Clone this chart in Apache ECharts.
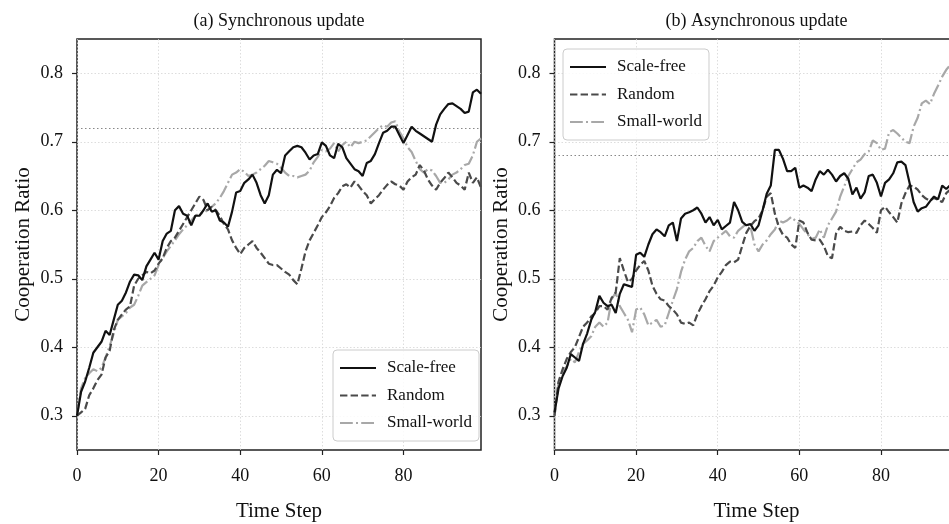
<!DOCTYPE html>
<html>
<head>
<meta charset="utf-8">
<title>Cooperation Ratio</title>
<script src="https://cdn.jsdelivr.net/npm/echarts@6/dist/echarts.min.js"></script>
<style>
    html, body { margin: 0; padding: 0; background: #fff; overflow: hidden; }
    /* 图比窗口略宽，右侧子图被裁掉一部分 */
    #chart { width: 975px; height: 524px; }
</style>
</head>
<body>
<div id="chart"></div>
<script>
"use strict"

// 数据：时间步 0..99
const steps = [];
for (let i = 0; i < 100; i++) steps.push(i);

const seriesNames = ["Scale-free", "Random", "Small-world"];
const xTicks = [0, 20, 40, 60, 80];
const yTicks = [0.3, 0.4, 0.5, 0.6, 0.7, 0.8];
const titles = ["(a) Synchronous update", "(b) Asynchronous update"];
const refLevels = [0.72, 0.68];

// (a) 同步更新
const syncScaleFree = [
    0.300, 0.335, 0.350, 0.370, 0.392, 0.400, 0.408, 0.424, 0.418, 0.440,
    0.462, 0.468, 0.480, 0.496, 0.506, 0.505, 0.498, 0.518, 0.528, 0.538,
    0.528, 0.555, 0.566, 0.570, 0.600, 0.606, 0.595, 0.592, 0.578, 0.592,
    0.592, 0.600, 0.610, 0.598, 0.600, 0.585, 0.582, 0.576, 0.598, 0.626,
    0.628, 0.640, 0.645, 0.652, 0.640, 0.622, 0.610, 0.622, 0.652, 0.659,
    0.654, 0.680, 0.686, 0.692, 0.694, 0.692, 0.684, 0.674, 0.680, 0.682,
    0.699, 0.694, 0.680, 0.676, 0.697, 0.692, 0.676, 0.668, 0.660, 0.657,
    0.650, 0.669, 0.672, 0.682, 0.698, 0.713, 0.716, 0.722, 0.722, 0.710,
    0.698, 0.710, 0.722, 0.716, 0.712, 0.708, 0.704, 0.700, 0.725, 0.740,
    0.748, 0.755, 0.756, 0.752, 0.748, 0.742, 0.744, 0.772, 0.776, 0.770
];
const syncRandom = [
    0.300, 0.305, 0.310, 0.330, 0.340, 0.352, 0.360, 0.385, 0.395, 0.425,
    0.440, 0.448, 0.455, 0.460, 0.490, 0.500, 0.505, 0.510, 0.508, 0.512,
    0.522, 0.530, 0.545, 0.555, 0.560, 0.570, 0.580, 0.590, 0.600, 0.610,
    0.620, 0.615, 0.600, 0.605, 0.600, 0.592, 0.580, 0.572, 0.556, 0.545,
    0.536, 0.545, 0.550, 0.555, 0.545, 0.538, 0.530, 0.522, 0.520, 0.520,
    0.515, 0.510, 0.506, 0.498, 0.492, 0.515, 0.540, 0.556, 0.567, 0.578,
    0.590, 0.597, 0.606, 0.618, 0.625, 0.635, 0.638, 0.633, 0.642, 0.636,
    0.628, 0.622, 0.610, 0.616, 0.622, 0.630, 0.637, 0.642, 0.638, 0.636,
    0.630, 0.642, 0.648, 0.652, 0.666, 0.658, 0.645, 0.636, 0.630, 0.640,
    0.647, 0.655, 0.648, 0.640, 0.636, 0.630, 0.655, 0.640, 0.648, 0.633
];
const syncSmallWorld = [
    0.300, 0.340, 0.355, 0.362, 0.368, 0.365, 0.370, 0.385, 0.402, 0.420,
    0.440, 0.445, 0.450, 0.458, 0.462, 0.475, 0.490, 0.495, 0.500, 0.505,
    0.520, 0.530, 0.540, 0.548, 0.556, 0.565, 0.572, 0.578, 0.585, 0.592,
    0.595, 0.596, 0.600, 0.605, 0.610, 0.618, 0.628, 0.640, 0.652, 0.655,
    0.660, 0.656, 0.650, 0.652, 0.655, 0.660, 0.665, 0.672, 0.670, 0.668,
    0.662, 0.655, 0.650, 0.650, 0.648, 0.650, 0.652, 0.658, 0.670, 0.678,
    0.688, 0.686, 0.690, 0.698, 0.686, 0.695, 0.700, 0.692, 0.700, 0.698,
    0.700, 0.702, 0.708, 0.714, 0.720, 0.724, 0.722, 0.728, 0.730, 0.715,
    0.705, 0.692, 0.685, 0.672, 0.660, 0.655, 0.660, 0.658, 0.650, 0.640,
    0.640, 0.645, 0.652, 0.655, 0.660, 0.666, 0.668, 0.680, 0.700, 0.705
];

// (b) 异步更新
const asyncScaleFree = [
    0.305, 0.340, 0.358, 0.370, 0.390, 0.385, 0.380, 0.405, 0.420, 0.440,
    0.452, 0.475, 0.465, 0.460, 0.462, 0.450, 0.478, 0.492, 0.490, 0.488,
    0.535, 0.538, 0.532, 0.550, 0.565, 0.572, 0.568, 0.562, 0.578, 0.582,
    0.555, 0.588, 0.595, 0.597, 0.600, 0.604, 0.595, 0.582, 0.590, 0.578,
    0.586, 0.572, 0.577, 0.582, 0.612, 0.600, 0.583, 0.578, 0.580, 0.570,
    0.578, 0.600, 0.624, 0.636, 0.688, 0.688, 0.675, 0.657, 0.657, 0.662,
    0.633, 0.636, 0.633, 0.628, 0.645, 0.657, 0.652, 0.659, 0.652, 0.642,
    0.650, 0.654, 0.646, 0.623, 0.633, 0.617, 0.626, 0.650, 0.652, 0.640,
    0.620, 0.640, 0.645, 0.654, 0.670, 0.671, 0.666, 0.640, 0.612, 0.598,
    0.603, 0.605, 0.613, 0.620, 0.616, 0.636, 0.631, 0.637, 0.640, 0.645
];
const asyncRandom = [
    0.300, 0.350, 0.368, 0.383, 0.393, 0.400, 0.415, 0.430, 0.436, 0.445,
    0.450, 0.460, 0.460, 0.455, 0.472, 0.480, 0.530, 0.512, 0.495, 0.500,
    0.512, 0.520, 0.526, 0.512, 0.490, 0.478, 0.470, 0.468, 0.460, 0.455,
    0.448, 0.436, 0.434, 0.436, 0.432, 0.448, 0.460, 0.470, 0.482, 0.490,
    0.502, 0.510, 0.520, 0.525, 0.524, 0.528, 0.548, 0.567, 0.577, 0.584,
    0.588, 0.600, 0.620, 0.625, 0.595, 0.575, 0.564, 0.560, 0.550, 0.545,
    0.585, 0.582, 0.567, 0.557, 0.556, 0.557, 0.548, 0.533, 0.530, 0.566,
    0.576, 0.570, 0.568, 0.569, 0.567, 0.578, 0.585, 0.580, 0.574, 0.567,
    0.600, 0.605, 0.597, 0.590, 0.582, 0.610, 0.625, 0.636, 0.635, 0.630,
    0.622, 0.617, 0.614, 0.618, 0.615, 0.612, 0.625, 0.630, 0.628, 0.635
];
const asyncSmallWorld = [
    0.300, 0.350, 0.365, 0.372, 0.383, 0.378, 0.393, 0.405, 0.410, 0.416,
    0.430, 0.436, 0.430, 0.436, 0.470, 0.480, 0.460, 0.450, 0.440, 0.422,
    0.455, 0.458, 0.448, 0.432, 0.436, 0.440, 0.430, 0.432, 0.450, 0.468,
    0.485, 0.510, 0.528, 0.540, 0.545, 0.555, 0.560, 0.548, 0.540, 0.555,
    0.560, 0.565, 0.570, 0.562, 0.560, 0.570, 0.575, 0.580, 0.577, 0.550,
    0.540, 0.550, 0.556, 0.565, 0.572, 0.585, 0.582, 0.585, 0.590, 0.585,
    0.580, 0.572, 0.565, 0.558, 0.560, 0.572, 0.560, 0.578, 0.588, 0.598,
    0.620, 0.635, 0.650, 0.660, 0.670, 0.674, 0.682, 0.686, 0.702, 0.698,
    0.688, 0.690, 0.714, 0.717, 0.712, 0.706, 0.700, 0.698, 0.722, 0.735,
    0.756, 0.760, 0.755, 0.770, 0.782, 0.795, 0.805, 0.812, 0.818, 0.825
];

const FONT = "'Liberation Serif', 'DejaVu Serif', serif";
const colors = ["#111111", "#4a4a4a", "#a8a8a8"];
const dashes = ["solid", [7.4, 3.2], [12.8, 3.2, 2, 3.2]];

// 两个子图的位置
const plotLeft = [77, 554.5];
const plotTop = 39;
const plotW = 404;
const plotH = 411;

function pairs(values) {
    return steps.map(function (t, i) { return [t, values[i]]; });
}

function makeAxes(idx) {
    let x = {
        type: "value", gridIndex: idx, min: 0, max: 99,
        axisLine: { show: false },
        axisTick: { show: true, length: 5, lineStyle: { color: "#222", width: 1.2 }, customValues: xTicks },
        axisLabel: { customValues: xTicks, margin: 17, color: "#111", fontFamily: FONT, fontSize: 18 },
        splitLine: { show: true, lineStyle: { color: "#d4d4d4", width: 0.8, type: [1.5, 2] } },
        name: "Time Step", nameLocation: "middle", nameGap: 51,
        nameTextStyle: { color: "#111", fontFamily: FONT, fontSize: 21 }
    };
    let y = {
        type: "value", gridIndex: idx, min: 0.25, max: 0.85,
        axisLine: { show: false },
        axisTick: { show: true, length: 5, lineStyle: { color: "#222", width: 1.2 }, customValues: yTicks },
        axisLabel: {
            customValues: yTicks, margin: 14, color: "#111", fontFamily: FONT, fontSize: 18,
            formatter: function (v) { return v.toFixed(1); }
        },
        splitLine: { show: true, lineStyle: { color: "#d4d4d4", width: 0.8, type: [1.5, 2] } },
        name: "Cooperation Ratio", nameLocation: "middle", nameGap: 43,
        nameTextStyle: { color: "#111", fontFamily: FONT, fontSize: 21 }
    };
    return { x: x, y: y };
}

function makeSeries(idx, lists) {
    return lists.map(function (vals, k) {
        let s = {
            name: seriesNames[k],
            type: "line",
            xAxisIndex: idx,
            yAxisIndex: idx,
            data: pairs(vals),
            showSymbol: false,
            symbol: "none",
            z: 10 - k,
            lineStyle: { color: colors[k], width: 2.2, type: dashes[k] },
            itemStyle: { color: colors[k] }
        };
        if (k === 0) {
            // 水平参考线
            s.markLine = {
                silent: true, symbol: "none", animation: false,
                label: { show: false },
                lineStyle: { color: "#888", width: 1.2, type: [1.5, 2.5] },
                data: [{ yAxis: refLevels[idx] }]
            };
        }
        return s;
    });
}

function makeLegend(left, top) {
    return {
        orient: "vertical", left: left, top: top,
        data: seriesNames,
        itemWidth: 36, itemHeight: 14, itemGap: 7.5,
        padding: [8, 7, 8, 6],
        backgroundColor: "rgba(255,255,255,0.85)",
        borderColor: "#cccccc", borderWidth: 1, borderRadius: 4,
        selectedMode: false,
        // 图例只画线，不画圆点
        itemStyle: { color: "transparent", borderColor: "transparent", borderWidth: 0, opacity: 0 },
        textStyle: { color: "#111", fontFamily: FONT, fontSize: 17, lineHeight: 20, padding: [0, 0, 0, 6] }
    };
}

let chart = echarts.init(document.getElementById("chart"));
let axesA = makeAxes(0);
let axesB = makeAxes(1);

let option = {
    animation: false,
    backgroundColor: "#fff",
    title: titles.map(function (t, i) {
        return {
            text: t, left: plotLeft[i] + plotW / 2 - 5, top: 7, textAlign: "center",
            textStyle: { color: "#111", fontFamily: FONT, fontSize: 18, fontWeight: "normal" }
        };
    }),
    grid: plotLeft.map(function (l) {
        return {
            left: l, top: plotTop, width: plotW, height: plotH,
            outerBoundsMode: "none",
            show: true, borderColor: "#222", borderWidth: 1.5, backgroundColor: "transparent"
        };
    }),
    legend: [makeLegend(333, 350), makeLegend(563, 49)],
    xAxis: [axesA.x, axesB.x],
    yAxis: [axesA.y, axesB.y],
    series: makeSeries(0, [syncScaleFree, syncRandom, syncSmallWorld])
        .concat(makeSeries(1, [asyncScaleFree, asyncRandom, asyncSmallWorld]))
};

chart.setOption(option);
</script>
</body>
</html>
